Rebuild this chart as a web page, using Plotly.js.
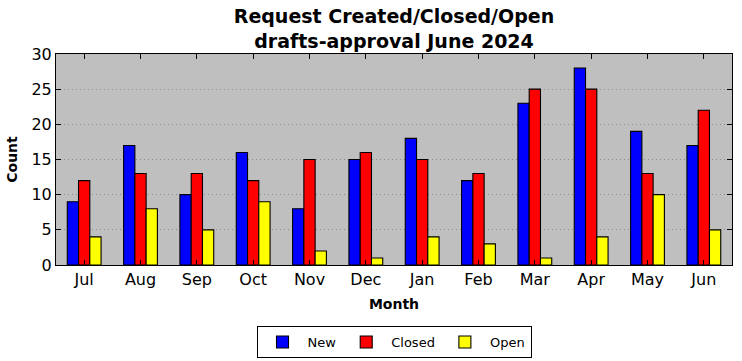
<!DOCTYPE html>
<html><head><meta charset="utf-8">
<script src="https://cdn.plot.ly/plotly-3.0.1.min.js"></script>
<style>body{margin:0;padding:0;background:#fff}#chart{width:742px;height:361px}</style>
</head><body><div id="chart"></div>
<script>
const months = ["Jul","Aug","Sep","Oct","Nov","Dec","Jan","Feb","Mar","Apr","May","Jun"];
const newVals = [9,17,10,16,8,15,18,12,23,28,19,17];
const closedVals = [12,13,13,12,15,16,15,13,25,25,13,22];
const openVals = [4,8,5,9,2,1,4,3,1,4,10,5];

const mk = (name, y, color) => ({
  type: 'bar', name: name, x: months, y: y,
  marker: {color: color, line: {color: '#000', width: 1.1}}
});
const data = [mk('New', newVals, '#0000ff'), mk('Closed', closedVals, '#ff0000'), mk('Open', openVals, '#ffff00')];
const fam = 'DejaVu Sans, sans-serif';
const layout = {
  width: 742, height: 361,
  margin: {l: 56, r: 10, t: 54, b: 96, autoexpand: false},
  paper_bgcolor: '#fff', plot_bgcolor: '#bfbfbf',
  font: {family: fam, size: 16, color: '#000'},
  barmode: 'group', bargap: 0.4, bargroupgap: 0,
  title: {text: '<b>Request Created/Closed/Open</b><br><b>drafts-approval June 2024</b>', x: 0.5, xanchor: 'center', xref: 'paper',
    yref: 'container', y: 0.935, yanchor: 'middle', font: {size: 19, family: fam}},
  xaxis: {
    range: [-0.5, 11.5], showline: true, linecolor: '#000', linewidth: 1, mirror: 'ticks',
    ticks: 'inside', ticklen: 5, tickcolor: '#000', showgrid: false,
    tickfont: {size: 16}, automargin: false,
    title: {text: '<b>Month</b>', font: {size: 14}, standoff: 10}
  },
  yaxis: {
    range: [0, 30], dtick: 5, showline: true, linecolor: '#000', linewidth: 1, mirror: 'ticks',
    ticks: 'inside', ticklen: 5, tickcolor: '#000', automargin: false,
    showgrid: true, gridcolor: '#8c8c8c', griddash: '1px,3px', gridwidth: 1, zeroline: false,
    tickfont: {size: 16},
    title: {text: '<b>Count</b>', font: {size: 14}, standoff: 10}
  },
  showlegend: true,
  legend: {orientation: 'h', x: 0.5, xref: 'paper', xanchor: 'center', yref: 'container', y: 0.097, yanchor: 'top',
    bordercolor: '#000', borderwidth: 1, font: {size: 13}, bgcolor: '#fff', traceorder: 'normal', itemwidth: 40,
    tracegroupgap: 0}
};
Plotly.newPlot('chart', data, layout, {displayModeBar: false, staticPlot: true});
</script></body></html>
